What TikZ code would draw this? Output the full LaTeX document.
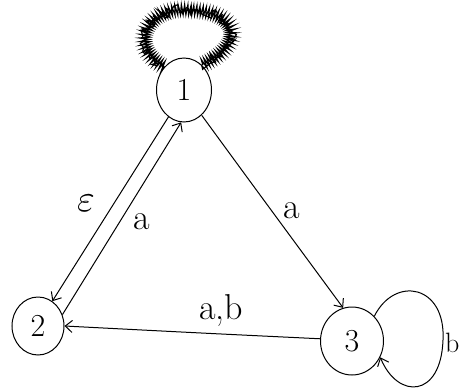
\documentclass[tikz,border=0pt]{standalone}
\usepackage{tikz}
\usetikzlibrary{arrows.meta, shapes.geometric, decorations.pathmorphing}
\tikzstyle{state}=[draw,line width=1pt,ellipse,inner sep=0pt,font=\fontsize{32}{36}\selectfont]
\tikzstyle{arr}=[-{Straight Barb[length=7pt,width=12pt]},line width=1pt]
\tikzstyle{lbl}=[font=\fontsize{36}{40}\selectfont]

\begin{document}
\begin{tikzpicture}[x=1pt,y=-1pt]
  \useasboundingbox (0,0) rectangle (461,391);
  \node[state,minimum width=55,minimum height=64,shape border rotate=-12] (s1) at (184,90) {1};
  \node[state,minimum width=52,minimum height=58] (s2) at (38,326) {2};
  \node[state,minimum width=63,minimum height=68] (s3) at (352,341) {3};
  % scribbled-out loop on 1
  \pgfmathsetseed{7}
  \draw[line width=1.2pt,decorate,decoration={random steps,segment length=2pt,amplitude=5pt}]
    (s1.130) .. controls (125,45) and (150,5) .. (190,10)
    .. controls (240,12) and (245,45) .. (s1.55);
  \draw[line width=1.2pt,decorate,decoration={zigzag,segment length=3pt,amplitude=5pt}]
    (s1.130) .. controls (125,45) and (150,5) .. (190,10)
    .. controls (240,12) and (245,45) .. (s1.55);
  % edges
  \draw[arr] (s1.240) -- (s2.60);
  \draw[arr] (s2.25) -- (s1.265);
  \draw[arr] (s1.305) .. controls (260,195) .. (s3.105);
  \draw[arr] (s3.176) .. controls (200,333) .. (s2.0);
  \draw[arr] (s3.48) .. controls (395,275) and (446,285) .. (443,340)
    .. controls (441,398) and (398,400) .. (s3.330);
  % labels
  \node (le) at (86,203) {\scalebox{3.8}{$\varepsilon$}};
  \node[lbl] (la1) at (142,222) {a};
  \node[lbl] (la2) at (292,211) {a};
  \node[lbl] (lab) at (221,310) {a,b};
  \node[font=\fontsize{28}{32}\selectfont,anchor=west,inner sep=1pt] (lb) at (444,343) {b};
\end{tikzpicture}
\end{document}
